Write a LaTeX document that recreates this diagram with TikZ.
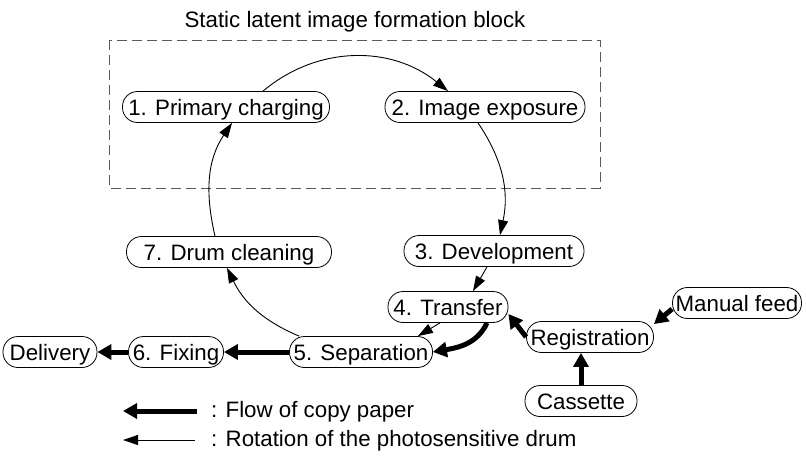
\documentclass[tikz,border=0pt]{standalone}
\usepackage{fontspec}
\setmainfont{Liberation Sans}
\usepackage{tikz}
\usetikzlibrary{arrows.meta}

\begin{document}
\begin{tikzpicture}[x=1pt, y=-1pt, font=\fontsize{22.3}{26.8}\selectfont,
        drumturn/.style = {line width=0.9pt, -{Triangle[length=15pt, width=10pt]}},
        paperflow/.style = {line width=5pt, -{Triangle[length=14pt, width=15pt]}}]
        \useasboundingbox (0,0) rectangle (806,458);
        \node[anchor=base] (title) at (355,27) {Static latent image formation block};
        \draw[line width=0.8pt, gray!70!black, dash pattern=on 10pt off 5pt] (109,40) rectangle (600,188);
        \begin{scope}[every node/.style = {draw, line width=0.8pt, rounded corners=15pt, minimum height=31pt, inner xsep=3pt, text height=20pt, text depth=4pt}]
            \node[minimum width=207pt] (charge) at (226,107) {1. Primary charging};
            \node[minimum width=200pt] (expose) at (485,107) {2. Image exposure};
            \node[minimum width=180pt] (develop) at (494,251) {3. Development};
            \node[minimum width=120pt] (transfer) at (448,307) {4. Transfer};
            \node[minimum width=143pt] (separate) at (361,352) {5. Separation};
            \node[minimum width=95pt] (fix) at (176,352) {6. Fixing};
            \node[minimum width=205pt] (clean) at (229,252) {7. Drum cleaning};
            \node[minimum width=94pt] (delivery) at (50,352) {Delivery};
            \node[minimum width=127pt] (regist) at (590,337) {Registration};
            \node[minimum width=129pt] (manual) at (737,303) {Manual feed};
            \node[minimum width=112pt] (cassette) at (581,401) {Cassette};
        \end{scope}
        \begin{scope}
            \path[drumturn] ([xshift=37pt]charge.north) edge[out=40, in=141] ([xshift=-37pt]expose.north);
            \path[drumturn] ([xshift=-7pt]expose.south) edge[out=-56, in=78] ([xshift=6pt]develop.north);
            \path[drumturn] ([xshift=-7pt]develop.south) edge ([xshift=25pt]transfer.north);
            \path[drumturn] ([xshift=-8pt]transfer.south) edge ([xshift=-15pt]separate.north east);
            \path[drumturn] ([xshift=10pt]separate.north west) edge[out=157, in=-64] ([xshift=-2pt]clean.south);
            \path[drumturn] ([xshift=-14pt]clean.north) edge[out=103, in=236] ([xshift=6pt]charge.south);
            \path[paperflow] ([xshift=39pt]transfer.south) edge[out=-115, in=10] (separate.east);
            \path[paperflow] (regist.west) edge ([yshift=-7pt]transfer.east);
            \path[paperflow] ([yshift=-6pt]manual.west) edge ([yshift=-3pt]regist.north east);
            \path[paperflow] (cassette.north) edge (cassette.north |- regist.south);
            \path[paperflow] (separate.west) edge (fix.east);
            \path[paperflow] (fix.west) edge (delivery.east);
        \end{scope}
        % legend
        \coordinate (flowA) at (197,411);
        \coordinate (flowB) at (123,411);
        \coordinate (turnA) at (195,440);
        \coordinate (turnB) at (123,440);
        \path[paperflow] (flowA) edge (flowB);
        \path[drumturn] (turnA) edge (turnB);
        \node[anchor=base west, inner sep=0pt] (flowtext) at (211,417) {: Flow of copy paper};
        \node[anchor=base west, inner sep=0pt] (turntext) at (211,446) {: Rotation of the photosensitive drum};
    \end{tikzpicture}
\end{document}
